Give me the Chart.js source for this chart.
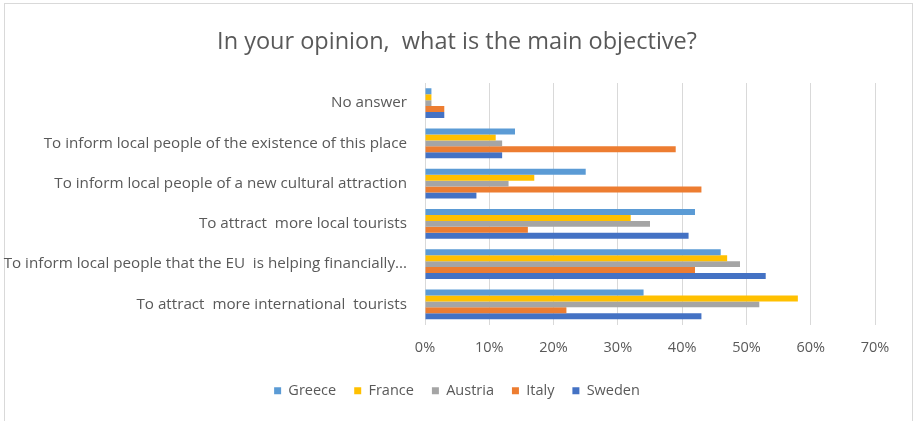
<!DOCTYPE html>
<html>
<head>
<meta charset="utf-8">
<script src="https://cdn.jsdelivr.net/npm/chart.js@4"></script>
<style>
  html, body { margin: 0; padding: 0; background: #fff; }
  #wrap { position: relative; width: 914px; height: 421px; overflow: hidden; }
  #frame { position: absolute; left: 4px; top: 3px; width: 909px; height: 440px;
           border: 1px solid #d9d9d9; box-sizing: border-box; }
  #objChart { position: absolute; left: 0; top: 0; }
</style>
</head>
<body>
<div id="wrap">
  <div id="frame"></div>
  <canvas id="objChart" width="914" height="421"></canvas>
</div>
<script>
const categories = [
    "No answer",
    "To inform local people of the existence of this place",
    "To inform local people of a new cultural attraction",
    "To attract  more local tourists",
    "To inform local people that the EU  is helping financially...",
    "To attract  more international  tourists"
];

// share of answers per country, in percent
const greece  = [1, 14, 25, 42, 46, 34];
const france  = [1, 11, 17, 32, 47, 58];
const austria = [1, 12, 13, 35, 49, 52];
const italy   = [3, 39, 43, 16, 42, 22];
const sweden  = [3, 12, 8, 41, 53, 43];

const axisMax = 70;
const axisStep = 10;

const textGray = "#595959";
const fontFamily = "'Open Sans', Lato, sans-serif";

function series(label, data, color) {
    return {
        label: label,
        data: data,
        backgroundColor: color,
        borderWidth: 0,
        categoryPercentage: 0.74,
        barPercentage: 1.0
    };
}

const ctx = document.getElementById("objChart").getContext("2d");

new Chart(ctx, {
    type: "bar",
    data: {
        labels: categories,
        datasets: [
            series("Greece", greece, "#5b9bd5"),
            series("France", france, "#ffc000"),
            series("Austria", austria, "#a5a5a5"),
            series("Italy", italy, "#ed7d31"),
            series("Sweden", sweden, "#4472c4")
        ]
    },
    options: {
        indexAxis: "y",
        responsive: false,
        animation: false,
        layout: {
            padding: { top: 0, right: 0, bottom: 13, left: 0 }
        },
        plugins: {
            title: {
                display: true,
                text: "In your opinion,  what is the main objective?",
                color: textGray,
                font: { family: fontFamily, size: 23.5, weight: "normal" },
                padding: { top: 28, bottom: 26.8 }
            },
            legend: {
                position: "bottom",
                labels: {
                    color: textGray,
                    font: { family: fontFamily, size: 14.5 },
                    boxWidth: 7,
                    boxHeight: 7,
                    padding: 18
                }
            },
            tooltip: { enabled: false }
        },
        scales: {
            x: {
                min: 0,
                max: axisMax,
                ticks: {
                    stepSize: axisStep,
                    color: textGray,
                    font: { family: fontFamily, size: 14.5 },
                    padding: 15,
                    callback: v => v + "%"
                },
                grid: { color: "#d9d9d9", drawTicks: false },
                border: { display: false },
                afterFit: scale => { scale.height = 41; }
            },
            y: {
                ticks: {
                    color: textGray,
                    font: { family: fontFamily, size: 15.2 },
                    padding: 10
                },
                grid: { display: false },
                border: { display: false },
                afterFit: scale => { scale.width = 425; }
            },
            // empty right-hand axis, keeps the blank margin right of 70%
            yRight: {
                type: "category",
                position: "right",
                ticks: { display: false },
                grid: { display: false },
                border: { display: false },
                afterFit: scale => { scale.width = 39; }
            }
        }
    }
});
</script>
</body>
</html>
